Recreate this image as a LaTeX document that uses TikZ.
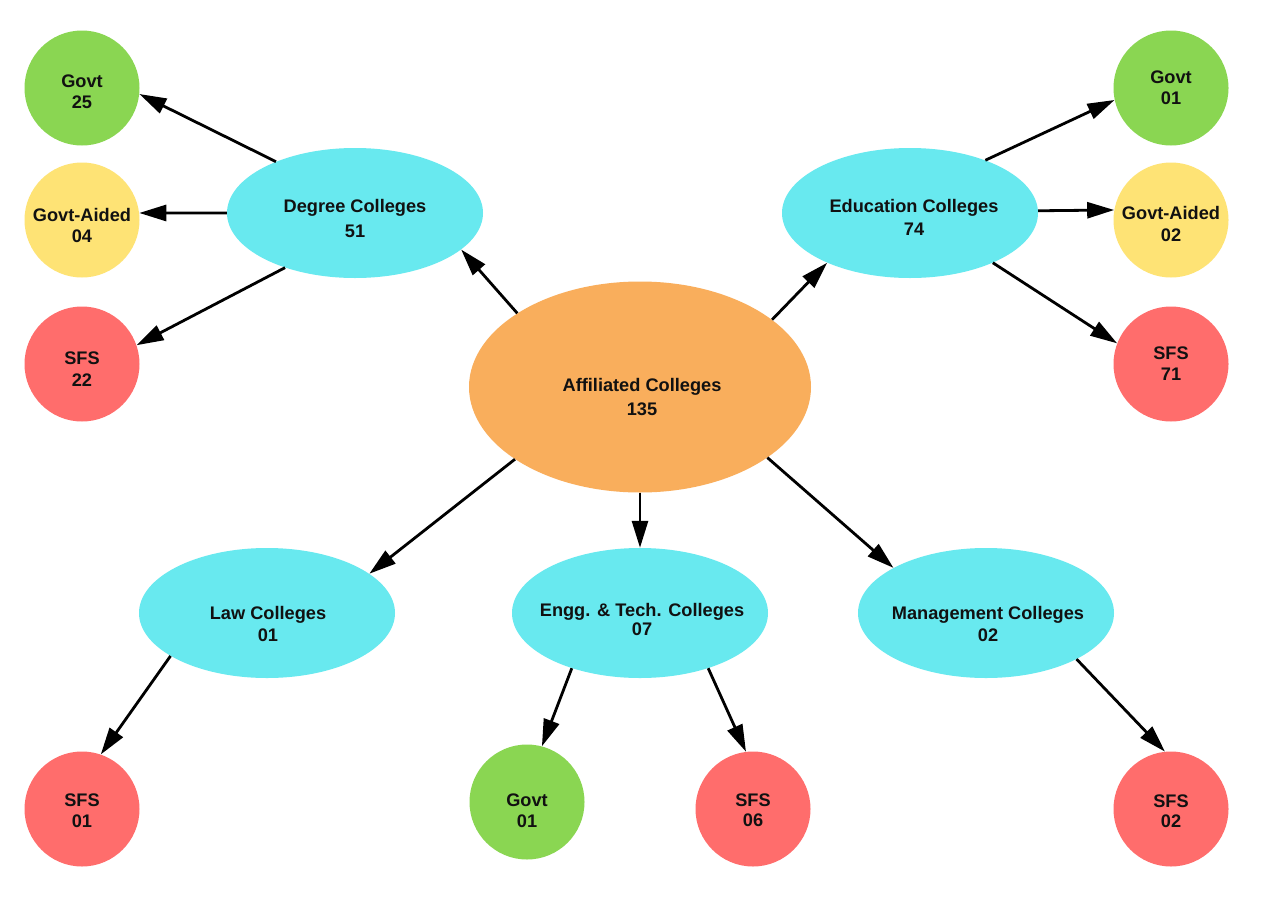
\documentclass[tikz,border=0pt]{standalone}
\usepackage{fontspec}
\setmainfont{Liberation Sans}
\usetikzlibrary{arrows.meta,shapes.geometric}
\definecolor{cOrange}{HTML}{F9AE5C}
\definecolor{cCyan}{HTML}{68E9EF}
\definecolor{cGreen}{HTML}{8AD652}
\definecolor{cYellow}{HTML}{FEE375}
\definecolor{cRed}{HTML}{FF6D6C}
\definecolor{cText}{HTML}{111111}
\tikzset{
  ell/.style={ellipse, fill=cCyan, draw=none, inner sep=0pt, minimum width=256pt, minimum height=130pt},
  bigell/.style={ellipse, fill=cOrange, draw=none, inner sep=0pt, minimum width=342pt, minimum height=211pt},
  disc/.style={circle, draw=none, inner sep=0pt, minimum size=115pt, fill=#1},
  lbl/.style={font=\fontsize{18.2pt}{#1}\selectfont\bfseries, align=center, inner sep=0pt, text=cText},
  lbl/.default=22pt,
  arr/.style={line width=2.8pt, -{Triangle[length=27pt,width=16pt]}},
}
\begin{document}
\begin{tikzpicture}[x=1pt,y=-1pt]
\useasboundingbox (0,0) rectangle (1280,905);
\fill[white] (0,0) rectangle (1280,905);
% shapes
\node[bigell] (ctr) at (640,387) {};
\node[ell] (deg) at (355,213) {};
\node[ell] (edu) at (910,213) {};
\node[ell] (law) at (267,613) {};
\node[ell] (engg) at (640,613) {};
\node[ell] (mgmt) at (986,613) {};
\node[disc=cGreen] (g25) at (82,88) {};
\node[disc=cYellow] (ga04) at (82,220) {};
\node[disc=cRed] (s22) at (82,364) {};
\node[disc=cGreen] (g01r) at (1171,88) {};
\node[disc=cYellow] (ga02) at (1171,220) {};
\node[disc=cRed] (s71) at (1171,364) {};
\node[disc=cRed] (s01) at (82,809) {};
\node[disc=cGreen] (g01b) at (527,802) {};
\node[disc=cRed] (s06) at (753,809) {};
\node[disc=cRed] (s02) at (1171,809) {};
% connectors
\draw[arr] (ctr.149) -- (deg.341);
\draw[arr] (ctr.27) -- (edu.211);
\draw[arr] (ctr.210) -- (law.21);
\draw[arr] (ctr.270) -- (engg.90);
\draw[arr] (ctr.331) -- (mgmt.154);
\draw[arr] (deg.147) -- (g25.354);
\draw[arr] (deg.180) -- (ga04.7);
\draw[arr] (deg.218) -- (s22.19);
\draw[arr] (edu.35) -- (g01r.192);
\draw[arr] (edu.1) -- (ga02.170);
\draw[arr] (edu.329) -- (s71.159);
\draw[arr] (law.204) -- (s01.71);
\draw[arr] (engg.219) -- (g01b.75);
\draw[arr] (engg.321) -- (s06.97);
\draw[arr] (mgmt.333) -- (s02.96);
% texts
\node[lbl=24pt] (ctrT) at (642,397.4) {Affiliated Colleges\\135};
\node[lbl=25pt] (degT) at (355,218.9) {Degree Colleges\\51};
\node[lbl=23pt] (eduT) at (914,217.9) {Education Colleges\\74};
\node[lbl=22pt] (lawT) at (268,624.4) {Law Colleges\\01};
\node[lbl=19pt] (enggT) at (642,619.9) {Engg. \& Tech. Colleges\\07};
\node[lbl=22pt] (mgmtT) at (988,624.4) {Management Colleges\\02};
\node[lbl=21pt] (g25T) at (82,91.9) {Govt\\25};
\node[lbl=21pt] (ga04T) at (82,225.9) {Govt-Aided\\04};
\node[lbl=22pt] (s22T) at (82,369.4) {SFS\\22};
\node[lbl=21pt] (g01rT) at (1171,87.9) {Govt\\01};
\node[lbl=22pt] (ga02T) at (1171,224.4) {Govt-Aided\\02};
\node[lbl=21pt] (s71T) at (1171,363.9) {SFS\\71};
\node[lbl=21pt] (s01T) at (82,810.9) {SFS\\01};
\node[lbl=21pt] (g01bT) at (527,810.9) {Govt\\01};
\node[lbl=20pt] (s06T) at (753,810.4) {SFS\\06};
\node[lbl=20pt] (s02T) at (1171,811.4) {SFS\\02};
\end{tikzpicture}
\end{document}
